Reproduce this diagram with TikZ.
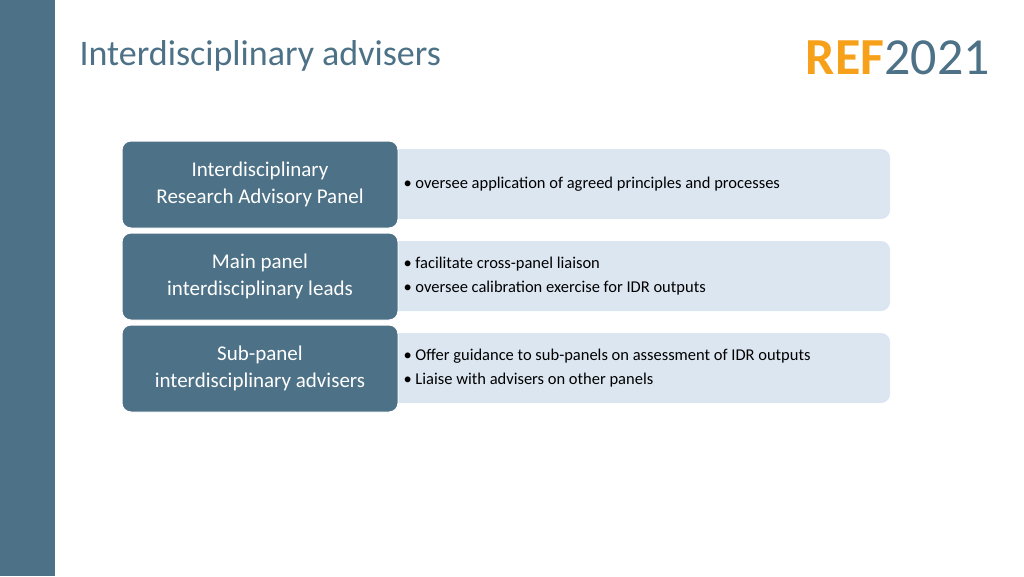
\documentclass[tikz,border=0pt]{standalone}
\usepackage{fontspec}
\setmainfont{Carlito}
\definecolor{slate}{HTML}{4D7186}
\definecolor{pale}{HTML}{DCE6F1}
\definecolor{refor}{HTML}{F7A11A}
\begin{document}
\begin{tikzpicture}[x=1pt,y=-1pt,
  dark/.style={fill=slate,draw=white,line width=1pt,rounded corners=9pt,text=white,font=\fontsize{21}{27}\selectfont,align=center},
  light/.style={fill=pale,rounded corners=9pt},
  btxt/.style={anchor=west,align=left,font=\fontsize{16.5}{24}\selectfont,text=black}]
\useasboundingbox (0,0) rectangle (1024,576);
\fill[slate] (0,0) rectangle (55,576);
\node[anchor=west,text=slate,font=\fontsize{36}{40}\selectfont] (title) at (76,56) {Interdisciplinary advisers};
\node[anchor=east,inner sep=0pt,font=\fontsize{52}{56}\selectfont] (logo) at (990,58) {\textcolor{refor}{\textbf{REF}}\textcolor{slate}{2021}};
\foreach \i/\y/\l/\r in {
 1/0/{Interdisciplinary\\Research Advisory Panel}/{• oversee application of agreed principles and processes},
 2/92/{Main panel\\interdisciplinary leads}/{• facilitate cross-panel liaison\\• oversee calibration exercise for IDR outputs},
 3/184/{Sub-panel\\interdisciplinary advisers}/{• Offer guidance to sub-panels on assessment of IDR outputs\\• Liaise with advisers on other panels}}{
  \fill[light] (390,149+\y) rectangle (890,219+\y);
  \node[dark,minimum width=276pt,minimum height=87pt] (d\i) at (260,184.5+\y) {\l};
  \node[btxt] (t\i) at (400,184+\y) {\r};
}
\end{tikzpicture}
\end{document}
